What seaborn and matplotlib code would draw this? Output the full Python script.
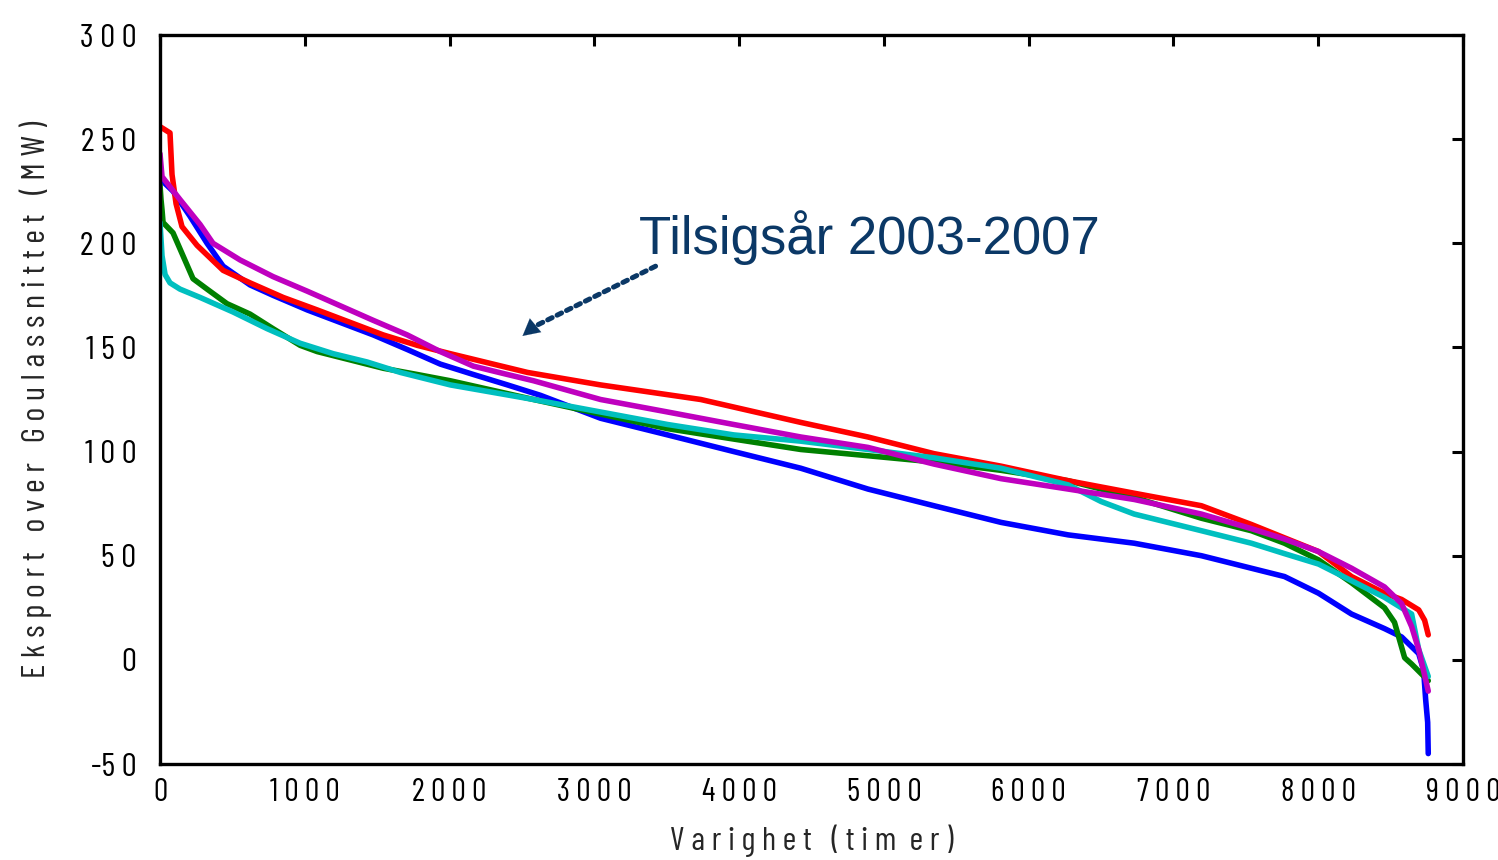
import matplotlib
matplotlib.use("Agg")
import matplotlib.pyplot as plt
import seaborn as sns
import pandas as pd
from matplotlib import font_manager as fm

# ---------------- data (hours, MW) ----------------
blue_x = [0, 90, 207, 325, 436, 622, 781, 1017, 1245, 1473, 1708, 1936, 2165, 2400, 2628, 3043, 3506, 3963, 4426,
          4890, 5346, 5809, 6273, 6729, 7193, 7767, 8002, 8230, 8458, 8576, 8694, 8728, 8742, 8756, 8760]
blue_y = [231, 225, 213, 200, 189, 180, 175, 168, 162, 156, 149, 142, 137, 132, 127, 116, 108, 100, 92,
          82, 74, 66, 60, 56, 50, 40, 32, 22, 15, 11, 3, -5, -19, -30, -45]

green_x = [0, 7, 14, 21, 90, 159, 228, 325, 463, 622, 781, 968, 1086, 1314, 1542, 1777, 2005, 2580, 3043, 3506,
           3963, 4426, 4890, 5346, 5809, 6273, 6729, 7193, 7538, 7767, 8002, 8230, 8458, 8527, 8597, 8645, 8760]
green_y = [228, 221, 216, 210, 205, 194, 183, 178, 171, 166, 159, 151, 148, 144, 140, 137, 134, 125, 118, 111,
           106, 101, 98, 95, 91, 86, 78, 68, 62, 56, 48, 37, 25, 18, 1, -2, -10]

red_x = [0, 69, 83, 111, 152, 256, 436, 622, 851, 1086, 1314, 1542, 1777, 2005, 2538, 3043, 3735, 4426, 4890,
         5346, 5809, 6273, 6729, 7193, 7538, 8002, 8230, 8458, 8576, 8694, 8735, 8760]
red_y = [256, 253, 233, 219, 208, 199, 187, 181, 174, 168, 162, 156, 151, 147, 138, 132, 125, 114, 107,
         99, 93, 86, 80, 74, 65, 52, 40, 32, 29, 24, 19, 12]

cyan_x = [0, 7, 14, 35, 69, 138, 277, 505, 740, 968, 1196, 1431, 1660, 2005, 2580, 3043, 3506, 3963, 4426, 4890,
          5346, 5809, 6273, 6501, 6729, 7193, 7538, 7767, 8002, 8230, 8458, 8645, 8694, 8760]
cyan_y = [210, 202, 194, 185, 181, 178, 174, 167, 159, 152, 147, 143, 138, 132, 125, 119, 113, 108, 105, 101,
          97, 92, 84, 76, 70, 62, 56, 51, 46, 38, 30, 22, 5, -8]

magenta_x = [0, 14, 138, 277, 366, 553, 781, 1017, 1245, 1473, 1708, 1936, 2165, 2400, 2580, 3043, 3506, 3963,
             4426, 4890, 5346, 5809, 6273, 6729, 7193, 7538, 7767, 8002, 8230, 8458, 8576, 8645, 8694, 8760]
magenta_y = [243, 232, 221, 209, 200, 192, 184, 177, 170, 163, 156, 148, 141, 137, 134, 125, 119, 113,
             107, 102, 94, 87, 82, 77, 70, 63, 58, 52, 44, 35, 27, 16, 5, -15]

x_ticks = [0, 1000, 2000, 3000, 4000, 5000, 6000, 7000, 8000, 9000]
y_ticks = [-50, 0, 50, 100, 150, 200, 250, 300]
annotation_text = "Tilsigsår 2003-2007"
x_label = "V a r i g h e t   ( t i m  e r )"
y_label = "E k s p o r t   o v e r   G o u l a s s n i t t e t   ( M W )"

series = [("b", blue_x, blue_y), ("g", green_x, green_y), ("r", red_x, red_y),
          ("c", cyan_x, cyan_y), ("m", magenta_x, magenta_y)]
frames = []
for name, xs, ys in series:
    frames.append(pd.DataFrame({"series": name, "x": xs, "y": ys}))
df = pd.concat(frames, ignore_index=True)

palette = {"b": "#0000FF", "g": "#008000", "r": "#FF0000", "c": "#00BFBF", "m": "#BF00BF"}

# ---------------- style ----------------
sns.set_theme(style="white")
names = {f.name for f in fm.fontManager.ttflist}
narrow = "DejaVu Sans"
for cand in ["Barlow Condensed", "Fira Sans Extra Condensed", "Archivo Narrow", "PT Sans Narrow",
             "Roboto Condensed", "Pragati Narrow"]:
    if cand in names:
        narrow = cand
        break
plt.rcParams["font.family"] = [narrow, "DejaVu Sans"]

fig = plt.figure(figsize=(14.98, 8.60), dpi=100)
ax = fig.add_axes([160 / 1498, (860 - 764) / 860, (1463 - 160) / 1498, (764 - 35) / 860])

sns.lineplot(data=df, x="x", y="y", hue="series", palette=palette, sort=False, estimator=None,
             units="series", linewidth=4.0, legend=False, ax=ax)

def spaced(v):
    s = " ".join(str(abs(v)))
    return ("-" + s) if v < 0 else s

ax.set_xlim(0, 9000)
ax.set_ylim(-50, 300)
ax.set_xticks(x_ticks)
ax.set_yticks(y_ticks)
ax.set_xticklabels([spaced(v) for v in x_ticks], fontsize=23)
ax.set_yticklabels([spaced(v) for v in y_ticks], fontsize=24)
ax.tick_params(axis="both", direction="in", length=8, width=2.2, top=True, right=True,
               colors="black", labelcolor="black")
ax.tick_params(axis="x", pad=10)
ax.tick_params(axis="y", pad=17)
for s in ax.spines.values():
    s.set_visible(True)
    s.set_linewidth(2.4)
    s.set_color("black")

ax.set_xlabel(x_label, fontsize=24, labelpad=12)
ax.set_ylabel(y_label, fontsize=24, labelpad=20)

navy = "#0B3866"
ax.text(3306, 195, annotation_text, fontsize=38, color=navy, family=["Liberation Sans", "DejaVu Sans"],
        va="baseline", ha="left")
# dotted shaft
ax.annotate("", xy=(2570, 159.5), xytext=(3423, 189),
            arrowprops=dict(arrowstyle="-", color=navy, lw=3.6, linestyle=(0, (1, 1.1)),
                            shrinkA=0, shrinkB=0))
# solid head
ax.annotate("", xy=(2504, 155.5), xytext=(2600, 161),
            arrowprops=dict(arrowstyle="-|>,head_length=0.6,head_width=0.32", color=navy,
                            lw=0.1, shrinkA=0, shrinkB=0, mutation_scale=20))

fig.savefig("out.png", dpi=100)
